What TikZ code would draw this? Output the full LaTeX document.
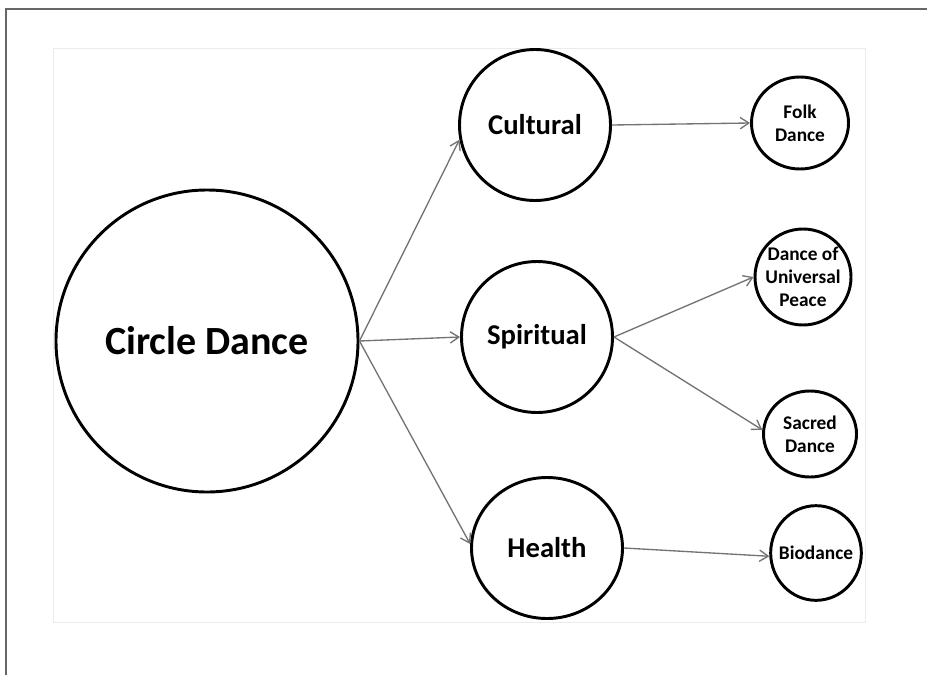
\documentclass[tikz,border=0pt]{standalone}
\usepackage{fontspec}
\setmainfont{Carlito}
\usetikzlibrary{arrows.meta,shapes.geometric}
\newcommand\zerobox[1]{\makebox[0pt]{#1}}

\begin{document}
\begin{tikzpicture}[x=0.75pt,y=0.75pt,yscale=-1,xscale=1,
    bubble/.style={draw,ellipse,line width=2.2pt,inner sep=0pt,align=center},
    bigtext/.style={font=\bfseries\fontsize{30}{36}\selectfont},
    midtext/.style={font=\bfseries\fontsize{21.5}{26}\selectfont},
    smalltext/.style={font=\bfseries\fontsize{14.5}{17}\selectfont},
    link/.style={draw=black!55,line width=1pt,-{Straight Barb[length=6.5pt,width=8.5pt]}}]
\useasboundingbox (0,0) rectangle (927,674);
\clip (0,0) rectangle (927,674);
\draw [black!60,line width=1.6pt] (6,690) -- (6,9) -- (940,9) ;
\draw [black!8,line width=0.6pt] (53,48) rectangle (865,622) ;

\node [bubble,bigtext,minimum width=226.5pt,minimum height=226.5pt] (cd) at (207,341) {Circle Dance};
\node [bubble,midtext,minimum width=113.25pt,minimum height=113.25pt] (cult) at (535,125) {Cultural};
\node [bubble,midtext,minimum width=113.25pt,minimum height=113.25pt] (spir) at (537,337) {Spiritual};
\node [bubble,midtext,minimum width=113.25pt,minimum height=105.75pt] (hlth) at (547,548) {Health};
\node [bubble,smalltext,minimum width=72.75pt,minimum height=69pt] (folk) at (800,123) {Folk\\Dance};
\node [bubble,smalltext,minimum width=72pt,minimum height=72pt] (peace) at (803,277) {\zerobox{Dance of}\\\zerobox{Universal}\\\zerobox{Peace}};
\node [bubble,smalltext,minimum width=69.75pt,minimum height=64.5pt] (sacred) at (810,434) {Sacred\\Dance};
\node [bubble,smalltext,minimum width=68pt,minimum height=71pt] (bio) at (816,553) {\zerobox{Biodance}};

\draw [link] (cd.east) -- (cult.191) ;
\draw [link] (cd.east) -- (spir.west) ;
\draw [link] (cd.east) -- (hlth.177) ;
\draw [link] (cult.east) -- (folk.west) ;
\draw [link] (spir.east) -- (peace.west) ;
\draw [link] (spir.east) -- (sacred.175) ;
\draw [link] (hlth.east) -- (bio.184) ;
\end{tikzpicture}
\end{document}
